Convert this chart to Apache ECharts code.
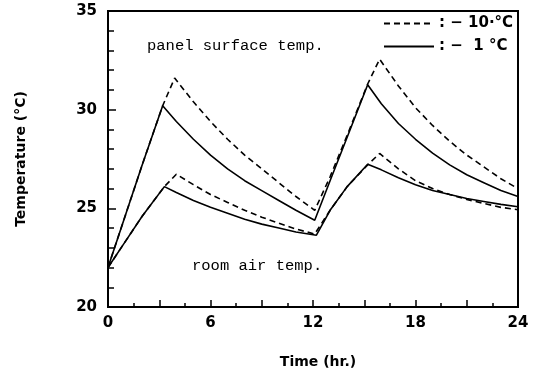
<!DOCTYPE html>
<html>
<head>
<meta charset="utf-8">
<script src="https://cdn.jsdelivr.net/npm/echarts@6/dist/echarts.min.js"></script>
<style>
html,body{margin:0;padding:0;background:#fff;}
#c{width:536px;height:374px;}
</style>
</head>
<body>
<div id="c"></div>
<script>
// ---- data ----
var xTicks = [0, 6, 12, 18, 24];
var yTicks = [20, 25, 30, 35];

var panelSolidHours = [0, 1, 2, 3.2, 4, 5, 6, 7, 8, 9, 10, 11, 12.1, 13, 14, 15.2, 16, 17, 18, 19, 20, 21, 22, 23, 24];
var panelSolidTemps = [22.0, 24.6, 27.2, 30.2, 29.4, 28.5, 27.7, 27.0, 26.4, 25.9, 25.4, 24.9, 24.4, 26.4, 28.6, 31.26, 30.3, 29.3, 28.5, 27.8, 27.2, 26.7, 26.3, 25.9, 25.6];

var panelDashedHours = [0, 1, 2, 3.2, 3.9, 5, 6, 7, 8, 9, 10, 11, 12.1, 13, 14, 15.2, 15.9, 17, 18, 19, 20, 21, 22, 23, 24];
var panelDashedTemps = [22.0, 24.6, 27.2, 30.2, 31.6, 30.4, 29.4, 28.5, 27.7, 27.0, 26.3, 25.6, 24.9, 26.6, 28.7, 31.3, 32.56, 31.2, 30.1, 29.2, 28.4, 27.7, 27.1, 26.5, 26.0];

var roomSolidHours = [0, 1, 2, 3.3, 4, 5, 6, 7, 8, 9, 10, 11, 12.2, 13, 14, 15.2, 16, 17, 18, 19, 20, 21, 22, 23, 24];
var roomSolidTemps = [22.0, 23.3, 24.6, 26.1, 25.8, 25.4, 25.05, 24.75, 24.45, 24.2, 24.0, 23.8, 23.64, 24.9, 26.1, 27.23, 26.95, 26.55, 26.2, 25.9, 25.7, 25.5, 25.35, 25.2, 25.08];

var roomDashedHours = [0, 1, 2, 3.3, 4, 5, 6, 7, 8, 9, 10, 11, 12.1, 13, 14, 15.2, 15.9, 17, 18, 19, 20, 21, 22, 23, 24];
var roomDashedTemps = [22.0, 23.3, 24.6, 26.1, 26.73, 26.2, 25.7, 25.3, 24.9, 24.55, 24.25, 23.95, 23.7, 24.9, 26.1, 27.2, 27.78, 27.0, 26.4, 26.0, 25.7, 25.45, 25.25, 25.05, 24.93];

var nameDashed = ': \u2212 10\u00B7\u00B0C';
var nameSolid = ': \u2212  1 \u00B0C';

function pairs(h, t) { return h.map(function (v, i) { return [v, t[i]]; }); }

var chart = echarts.init(document.getElementById('c'), null, {renderer: 'canvas'});

var lineW = 1.6;
function mk(name, h, t, dashed) {
  return {
    type: 'line', name: name, data: pairs(h, t),
    symbol: 'none', smooth: false, animation: false,
    lineStyle: {color: '#000', width: lineW, type: dashed ? [6, 4] : 'solid'},
    itemStyle: {color: '#000'}
  };
}

var tickFont = {color: '#000', fontFamily: 'DejaVu Sans', fontWeight: 'bold', fontSize: 15};

chart.setOption({
  animation: false,
  backgroundColor: '#fff',
  grid: {left: 108, right: 18, top: 11, bottom: 62, show: true, borderColor: '#000', borderWidth: 2},
  legend: {
    left: 378, top: 11, orient: 'vertical', itemWidth: 50, itemHeight: 14, itemGap: 8,
    data: [nameDashed, nameSolid],
    itemStyle: {opacity: 0, color: 'rgba(0,0,0,0)', borderColor: 'rgba(0,0,0,0)', borderWidth: 0},
    textStyle: {color: '#000', fontFamily: 'DejaVu Sans', fontWeight: 'bold', fontSize: 15},
    selectedMode: false
  },
  xAxis: {
    type: 'value', min: 0, max: 24, interval: 3,
    name: 'Time (hr.)', nameLocation: 'middle', nameGap: 48,
    nameTextStyle: {color: '#000', fontFamily: 'DejaVu Sans', fontWeight: 'bold', fontSize: 14, padding: [0, 0, 0, 10]},
    axisLine: {lineStyle: {color: '#000', width: 2}},
    axisTick: {inside: true, length: 7, lineStyle: {color: '#000', width: 1.5}},
    minorTick: {show: true, splitNumber: 2, length: 4, lineStyle: {color: '#000', width: 1.5}},
    splitLine: {show: false},
    axisLabel: Object.assign({margin: 9, formatter: function (v) { return xTicks.indexOf(v) >= 0 ? String(v) : ''; }}, tickFont)
  },
  yAxis: {
    type: 'value', min: 20, max: 35, interval: 5,
    name: 'Temperature (\u00B0C)', nameLocation: 'middle', nameGap: 80,
    nameTextStyle: {color: '#000', fontFamily: 'DejaVu Sans', fontWeight: 'bold', fontSize: 14},
    axisLine: {lineStyle: {color: '#000', width: 2}},
    axisTick: {inside: true, length: 8, lineStyle: {color: '#000', width: 1.5}},
    minorTick: {show: true, splitNumber: 5, length: 6, lineStyle: {color: '#000', width: 1.5}},
    splitLine: {show: false},
    axisLabel: Object.assign({margin: 11, formatter: function (v) { return yTicks.indexOf(v) >= 0 ? String(v) : ''; }}, tickFont)
  },
  graphic: [
    {type: 'text', left: 147, top: 38, style: {text: 'panel surface temp.', font: '15.5px "Liberation Mono"', fill: '#000'}},
    {type: 'text', left: 192, top: 258, style: {text: 'room air temp.', font: '15.5px "Liberation Mono"', fill: '#000'}}
  ],
  series: [
    mk(nameDashed, panelDashedHours, panelDashedTemps, true),
    mk(nameSolid, panelSolidHours, panelSolidTemps, false),
    mk(nameDashed, roomDashedHours, roomDashedTemps, true),
    mk(nameSolid, roomSolidHours, roomSolidTemps, false)
  ]
});
</script>
</body>
</html>
